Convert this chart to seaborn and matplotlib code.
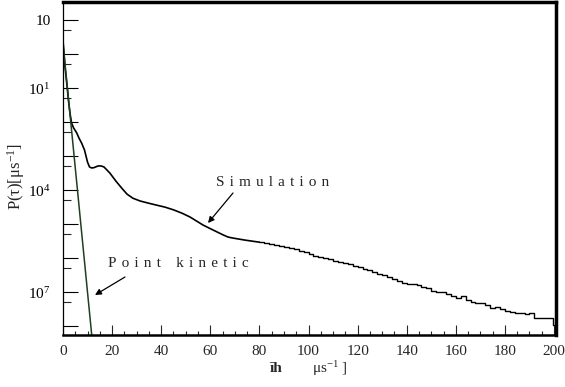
import numpy as np
import pandas as pd
import seaborn as sns
import matplotlib
matplotlib.use("Agg")
import matplotlib.pyplot as plt
from matplotlib.ticker import FixedLocator, FuncFormatter

# ---- data (y given as log10 of P) ----
sim_smooth_x = [0.1, 0.8, 1.75, 2.2, 2.85, 3.5, 4.3, 5.6, 6.5, 7.6, 8.75, 10.0, 10.8,
                11.7, 12.6, 14.3, 15.5, 16.7, 17.9, 19.1, 21.6, 23.9, 26.1, 28.5, 31.4,
                34.6, 38.0, 41.5, 45.0, 48.5, 51.7, 57.1, 59.9, 65.3, 67.2, 69.2, 74.1,
                78.9, 80.0]
sim_smooth_log = [-0.69, -1.37, -2.01, -2.35, -2.74, -3.03, -3.17, -3.32, -3.47, -3.62,
                  -3.82, -4.18, -4.32, -4.35, -4.34, -4.29, -4.29, -4.32, -4.41, -4.5,
                  -4.74, -4.94, -5.12, -5.24, -5.32, -5.38, -5.44, -5.5, -5.58, -5.68,
                  -5.79, -6.03, -6.13, -6.32, -6.38, -6.41, -6.47, -6.52, -6.53]

tail_edges_start = 80
tail_bin_width = 2
sim_tail_log = [-6.53, -6.55, -6.57, -6.60, -6.63, -6.67, -6.71, -6.74, -6.80, -6.83,
                -6.87, -6.93, -6.96, -6.99, -7.04, -7.07, -7.10, -7.15, -7.18, -7.24,
                -7.27, -7.31, -7.35, -7.41, -7.46, -7.50, -7.55, -7.60, -7.68, -7.74,
                -7.75, -7.77, -7.80, -7.85, -7.88, -7.96, -8.00, -7.99, -8.05, -8.12,
                -8.16, -8.12, -8.23, -8.28, -8.31, -8.33, -8.37, -8.48, -8.43, -8.51,
                -8.55, -8.58, -8.60, -8.62, -8.63, -8.61, -8.76, -8.76, -8.76, -8.77]
last_drop_x = [199.6, 200.0]
last_drop_log = [-8.97, -8.97]

pk_x = [0.0, 12.0]
pk_log = [-0.68, -9.48]

x_ticks = [0, 20, 40, 60, 80, 100, 120, 140, 160, 180, 200]
y_label_exps = {0: "10", -2: "$\\mathregular{10^{1}}$", -5: "$\\mathregular{10^{4}}$",
                -8: "$\\mathregular{10^{7}}$"}

# ---- build frames ----
smooth = pd.DataFrame({"x": sim_smooth_x, "p": 10.0 ** np.array(sim_smooth_log)})
n = len(sim_tail_log)
tx = [tail_edges_start + tail_bin_width * i for i in range(n)]
tx_full = tx + [last_drop_x[0], last_drop_x[0], last_drop_x[1]]
ty_full = list(sim_tail_log) + [sim_tail_log[-1], last_drop_log[0], last_drop_log[1]]
tail = pd.DataFrame({"x": tx_full, "p": 10.0 ** np.array(ty_full)})
pk = pd.DataFrame({"x": pk_x, "p": 10.0 ** np.array(pk_log)})

sns.set_style("white")
serif = ["Liberation Serif", "DejaVu Serif"]
plt.rcParams["font.family"] = serif

fig = plt.figure(figsize=(5.65, 3.87), dpi=100)
ax = fig.add_axes([63 / 565, 1 - 335 / 387, (556 - 63) / 565, (335 - 2) / 387])

sns.lineplot(data=smooth, x="x", y="p", ax=ax, color="black", lw=1.2,
             sort=False, estimator=None)
sns.lineplot(data=tail, x="x", y="p", ax=ax, color="black", lw=1.0,
             sort=False, estimator=None, drawstyle="steps-post")
sns.lineplot(data=pk, x="x", y="p", ax=ax, color="#1f3f1f", lw=1.1,
             sort=False, estimator=None)

ax.set_yscale("log")
ax.set_xlim(0, 200.8)
ax.set_ylim(10 ** -9.26, 10 ** 0.53)

# y ticks
maj = [10.0 ** e for e in range(0, -10, -1)]
mnr = [5 * 10.0 ** (e - 1) for e in range(0, -10, -1)]
ax.yaxis.set_major_locator(FixedLocator(maj))
ax.yaxis.set_minor_locator(FixedLocator(mnr))
def yfmt(v, pos):
    e = int(round(np.log10(v)))
    return y_label_exps.get(e, "")
ax.yaxis.set_major_formatter(FuncFormatter(yfmt))
ax.yaxis.set_minor_formatter(FuncFormatter(lambda v, p: ""))

ax.set_xticks(x_ticks)
ax.set_xticklabels([str(t) for t in x_ticks])
ax.set_xticks(np.arange(0, 201, 5), minor=True)

ax.tick_params(axis="y", which="major", direction="in", length=11, width=0.8,
               labelsize=11, pad=9, left=True, colors="black")
ax.tick_params(axis="y", which="minor", direction="in", length=5.5, width=0.8, left=True)
ax.tick_params(axis="x", which="major", direction="in", length=7, width=0.8,
               labelsize=11, pad=7, bottom=True)
ax.tick_params(axis="x", which="minor", direction="in", length=3, width=0.8, bottom=True)

for side, w in [("left", 0.9), ("bottom", 1.8), ("top", 2.5), ("right", 2.5)]:
    ax.spines[side].set_color("black")
    ax.spines[side].set_linewidth(w)

ax.set_xlabel("")
ax.set_ylabel("P(τ)[μs$\\mathregular{^{-1}}$]", fontsize=12, labelpad=8)
ax.yaxis.set_label_coords(-0.074, 0.477)

fig.text(276 / 565, 1 - 369 / 387, "ĩh", fontsize=11, fontweight="bold",
         ha="center", va="center")
fig.text(330 / 565, 1 - 369 / 387, "μs$\\mathregular{^{-1}}$ ]", fontsize=11,
         ha="center", va="center")

# annotations
def px2data(px, py):
    disp = fig.transFigure.transform((px / 565, 1 - py / 387))
    return ax.transData.inverted().transform(disp)

sp = "\u2004"
sx, sy = px2data(273, 182)
ax.text(sx, sy, sp.join("Simulation"), fontsize=11, ha="center", va="center")
a0 = px2data(233, 193); a1 = px2data(208, 223)
ax.annotate("", xy=a1, xytext=a0,
            arrowprops=dict(arrowstyle="-|>", color="black", lw=0.9,
                            mutation_scale=9, shrinkA=0, shrinkB=0))
kx, ky = px2data(178, 263)
ax.text(kx, ky, sp.join("Point") + "\u2002\u2002" + sp.join("kinetic"),
        fontsize=11, ha="center", va="center")
b0 = px2data(125, 277); b1 = px2data(95, 295)
ax.annotate("", xy=b1, xytext=b0,
            arrowprops=dict(arrowstyle="-|>", color="black", lw=0.9,
                            mutation_scale=9, shrinkA=0, shrinkB=0))

fig.savefig("out.png", dpi=100)
